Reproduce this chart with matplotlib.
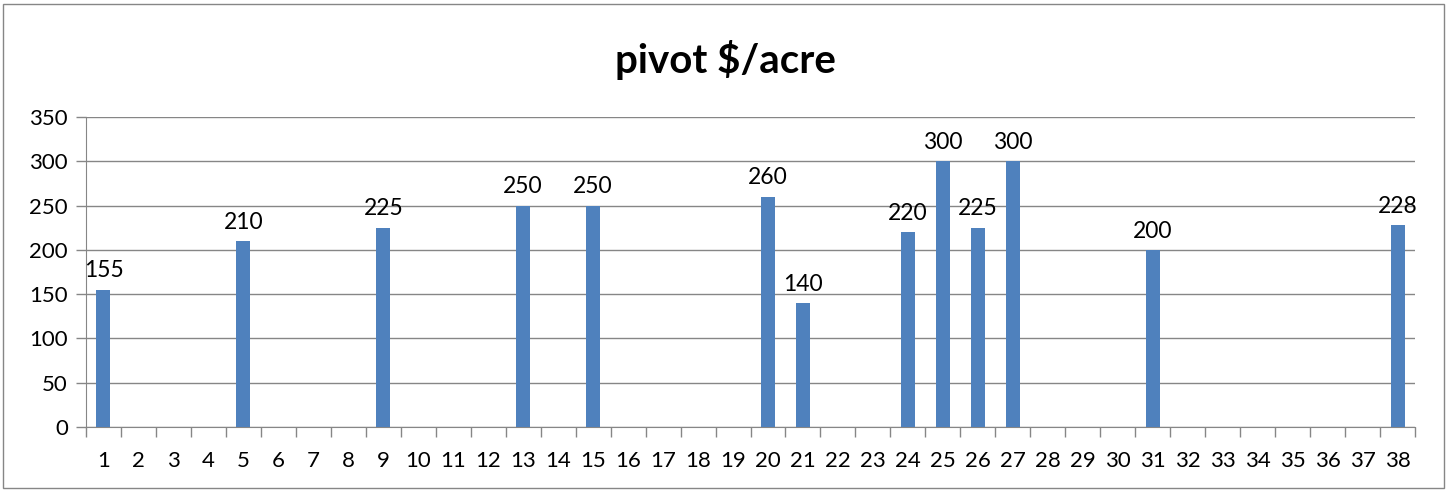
import numpy as np
import matplotlib.pyplot as plt
from matplotlib.patches import Rectangle

plt.rcParams['font.family'] = ['Lato', 'DejaVu Sans']

categories = list(range(1, 39))
filled_cats = [1, 5, 9, 13, 15, 20, 21, 24, 25, 26, 27, 31, 38]
filled_vals = [155, 210, 225, 250, 250, 260, 140, 220, 300, 225, 300, 200, 228]

values = [np.nan] * len(categories)
for c, v in zip(filled_cats, filled_vals):
    values[categories.index(c)] = v

fig = plt.figure(figsize=(14.5, 4.9), dpi=100)
ax = fig.add_axes([86 / 1450, 63 / 490, (1415 - 86) / 1450, (427 - 117) / 490])

x = np.arange(len(categories))
ax.bar(x, values, width=0.4, color='#4F81BD', zorder=3)
for xi, v in zip(x, values):
    if not np.isnan(v):
        ax.annotate(str(int(v)), (xi, v), xytext=(0, 6), textcoords='offset points',
                    ha='center', va='bottom', fontsize=16.5)

ax.set_xlim(-0.5, len(categories) - 0.5)
ax.set_ylim(0, 350)
ax.set_yticks(range(0, 351, 50))
ax.set_xticks(x)
ax.set_xticklabels([str(c) for c in categories], fontsize=16)
ax.tick_params(axis='x', length=0, pad=17)
ax.set_xticks(np.arange(-0.5, len(categories)), minor=True)
ax.tick_params(axis='x', which='minor', length=7, color='#868686', width=1)
ax.tick_params(axis='y', labelsize=16, length=7, color='#868686', width=1, pad=6)

ax.grid(axis='y', color='#868686', linewidth=1, zorder=0)
for s in ['top', 'right']:
    ax.spines[s].set_visible(False)
for s in ['left', 'bottom']:
    ax.spines[s].set_color('#868686')

fig.text(0.5, 0.877, 'pivot $/acre', ha='center', va='center', fontsize=29, fontweight='bold')

fig.patches.append(Rectangle((3 / 1450, 2 / 490), 1441 / 1450, 484 / 490, transform=fig.transFigure,
                             fill=False, edgecolor='#868686', linewidth=1))

fig.savefig('out.png', dpi=100)
